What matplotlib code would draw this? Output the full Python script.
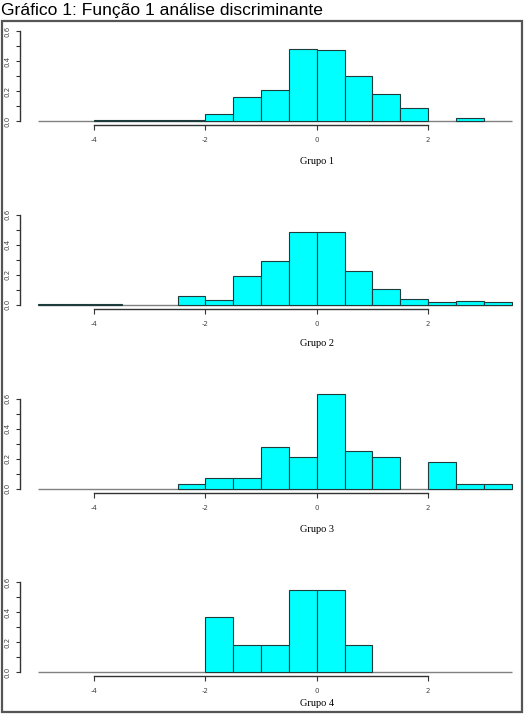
import matplotlib.pyplot as plt
import numpy as np
from matplotlib.patches import Rectangle

# histogram bin edges (width 0.5, from -5 to 3.5)
edges = np.arange(-5.0, 3.51, 0.5)

# densities per bin
grupo1 = [0, 0, 0.01, 0.01, 0.01, 0.01, 0.05, 0.157, 0.204, 0.483, 0.476, 0.299, 0.18, 0.086, 0, 0.018, 0]
grupo2 = [0.005, 0.005, 0.005, 0, 0, 0.058, 0.031, 0.189, 0.291, 0.487, 0.487, 0.222, 0.104, 0.04, 0.016, 0.022, 0.016]
grupo3 = [0, 0, 0, 0, 0, 0.033, 0.069, 0.069, 0.28, 0.209, 0.633, 0.249, 0.209, 0, 0.176, 0.033, 0.033]
grupo4 = [0, 0, 0, 0, 0, 0, 0.366, 0.181, 0.181, 0.547, 0.547, 0.181, 0, 0, 0, 0, 0]

groups = [grupo1, grupo2, grupo3, grupo4]
labels = ["Grupo 1", "Grupo 2", "Grupo 3", "Grupo 4"]
xticks = [-4, -2, 0, 2]
yticks = [0.0, 0.2, 0.4, 0.6]

W, H = 525, 717
fig = plt.figure(figsize=(W / 100, H / 100), dpi=100)

fig.text(1 / W, 1 - 10 / H, "Gráfico 1: Função 1 análise discriminante",
         fontsize=12.6, family="Liberation Sans", va="center", ha="left")

# outer frame
fig.patches.append(Rectangle((1.5 / W, 1 - 711.5 / H), 520 / W, 691 / H,
                             transform=fig.transFigure, fill=False,
                             edgecolor="#555555", linewidth=1.6))

# pixel row of y=0 for each panel, and x-label row
zero_rows = [121, 304.7, 488.7, 672.3]
label_rows = [161, 344, 530, 704]
scale = 150.0  # px per unit density
ymax = 0.66
left_px, right_px = 38.3, 511.7

for vals, lab, y0, ly in zip(groups, labels, zero_rows, label_rows):
    ax = fig.add_axes([left_px / W, (H - y0) / H, (right_px - left_px) / W, ymax * scale / H])
    ax.set_xlim(-5, 3.5)
    ax.set_ylim(0, ymax)
    vals = np.array(vals)
    ax.hlines(0, -5, 3.5, color="#808080", linewidth=1.0, zorder=1, clip_on=False)
    nz = vals > 0
    ax.bar(edges[:-1][nz], vals[nz], width=0.5, align="edge", color="#00FFFF",
           edgecolor="#1e3c3c", linewidth=0.8, zorder=2, clip_on=False)
    for s in ["top", "right"]:
        ax.spines[s].set_visible(False)
    ax.spines["left"].set_position(("outward", 13.2))
    ax.spines["left"].set_bounds(0, 0.6)
    ax.spines["bottom"].set_position(("outward", 3))
    ax.spines["bottom"].set_bounds(-4, 2)
    for s in ["left", "bottom"]:
        ax.spines[s].set_linewidth(1.0)
        ax.spines[s].set_color("#333333")
    ax.set_yticks(yticks)
    ax.set_yticks(np.arange(0, 0.61, 0.1), minor=True)
    ax.set_yticklabels(["0.0", "0.2", "0.4", "0.6"], rotation=90, va="center",
                       fontsize=5, color="#444444")
    ax.tick_params(axis="y", which="both", length=3, width=0.8, color="#333333", pad=4)
    ax.set_xticks(xticks)
    ax.set_xticklabels(["-4", "-2", "0", "2"], fontsize=5, color="#444444")
    ax.tick_params(axis="x", length=3.5, width=0.8, color="#333333", pad=5)
    ax.patch.set_alpha(0)
    fig.text(316.7 / W, 1 - ly / H, lab, family="Liberation Serif", fontsize=7.5,
             ha="center", va="center")

fig.savefig("out.png", dpi=100)
